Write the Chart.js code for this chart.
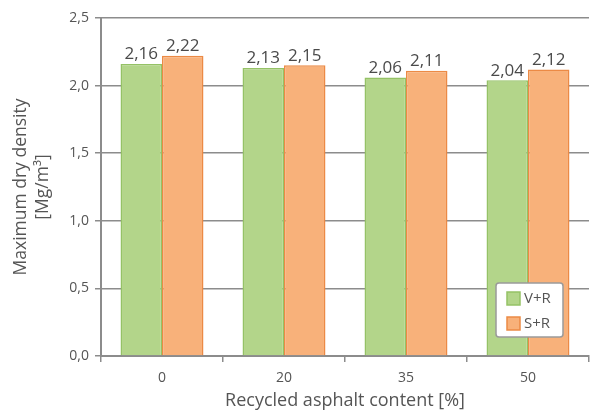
<!DOCTYPE html>
<html>
<head>
<meta charset="utf-8">
<script src="https://cdn.jsdelivr.net/npm/chart.js@4/dist/chart.umd.min.js"></script>
<style>
html,body{margin:0;padding:0;background:#fff;}
#wrap{width:590px;height:419px;position:relative;}
</style>
</head>
<body>
<div id="wrap"><canvas id="c" width="590" height="419"></canvas></div>
<script>
const categories = ['0', '20', '35', '50'];
const seriesNames = ['V+R', 'S+R'];
const valuesVR = [2.16, 2.13, 2.06, 2.04];
const valuesSR = [2.22, 2.15, 2.11, 2.12];
const yTicks = [0, 0.5, 1.0, 1.5, 2.0, 2.5];

const FONT = "'Open Sans', 'Noto Sans', sans-serif";
const TXT = '#555555';
const AX = '#8c8c8c';
const fmt = v => v.toFixed(2).replace('.', ',');
const fmt1 = v => Number(v).toFixed(1).replace('.', ',');

const colors = [
  {fill: '#b3d58a', border: '#95c266'},
  {fill: '#f8b17a', border: '#ec8a45'}
];

const labelPlugin = {
  id: 'valLabels',
  afterDatasetsDraw(chart) {
    const ctx = chart.ctx;
    ctx.save();
    ctx.font = "17px " + FONT;
    ctx.fillStyle = '#4a4a4a';
    ctx.textAlign = 'center';
    ctx.textBaseline = 'bottom';
    chart.data.datasets.forEach((ds, i) => {
      chart.getDatasetMeta(i).data.forEach((bar, j) => {
        ctx.fillText(fmt(ds.data[j]), bar.x, bar.y - 1);
      });
    });
    ctx.restore();
  }
};

const legendPlugin = {
  id: 'boxLegend',
  afterDraw(chart) {
    const ctx = chart.ctx;
    const a = chart.chartArea;
    const w = 67, h = 54;
    const x = a.right - 26 - w, y = a.bottom - 19 - h;
    ctx.save();
    ctx.fillStyle = '#ffffff';
    ctx.strokeStyle = '#9a9a9a';
    ctx.lineWidth = 1.5;
    ctx.beginPath();
    ctx.roundRect(x, y, w, h, 3);
    ctx.fill();
    ctx.stroke();
    ctx.font = "15px " + FONT;
    ctx.textBaseline = 'middle';
    ctx.textAlign = 'left';
    seriesNames.forEach((n, i) => {
      const sy = y + 9 + i * 25;
      ctx.fillStyle = colors[i].fill;
      ctx.fillRect(x + 11, sy, 13, 13);
      ctx.strokeStyle = colors[i].border;
      ctx.lineWidth = 1.5;
      ctx.strokeRect(x + 11, sy, 13, 13);
      ctx.fillStyle = TXT;
      ctx.fillText(n, x + 28, sy + 7);
    });
    ctx.restore();
  }
};

new Chart(document.getElementById('c'), {
  type: 'bar',
  data: {
    labels: categories,
    datasets: [
      {label: seriesNames[0], data: valuesVR, backgroundColor: colors[0].fill, borderColor: colors[0].border, borderWidth: 1.5, barPercentage: 1, categoryPercentage: 0.68},
      {label: seriesNames[1], data: valuesSR, backgroundColor: colors[1].fill, borderColor: colors[1].border, borderWidth: 1.5, barPercentage: 1, categoryPercentage: 0.68}
    ]
  },
  options: {
    responsive: false,
    animation: false,
    devicePixelRatio: 1,
    layout: {padding: {top: 18, right: 1, left: 0, bottom: 0}},
    plugins: {legend: {display: false}, tooltip: {enabled: false}},
    scales: {
      x: {
        offset: true,
        grid: {display: true, offset: true, drawOnChartArea: false, drawTicks: true, tickLength: 6, color: AX, lineWidth: 1.5},
        border: {display: true, color: AX, width: 2},
        ticks: {color: TXT, font: {family: FONT, size: 14}, padding: 8},
        title: {display: true, text: 'Recycled asphalt content [%]', color: TXT, font: {family: FONT, size: 18}, padding: {top: 2, bottom: 7}},
        afterFit(s) { s.height = 63; }
      },
      y: {
        min: 0, max: 2.5,
        afterBuildTicks(s) { s.ticks = yTicks.map(v => ({value: v})); },
        grid: {display: true, color: AX, lineWidth: 1.5, tickLength: 6, drawTicks: true},
        border: {display: true, color: AX, width: 2},
        ticks: {color: TXT, font: {family: FONT, size: 14}, padding: 6, callback: v => fmt1(v)},
        title: {display: true, text: ['Maximum dry density', '[Mg/m\u00B3]'], color: TXT, font: {family: FONT, size: 17.5, lineHeight: 1.25}, padding: {top: 10, bottom: 4}},
        afterFit(s) { s.width = 101; }
      }
    }
  },
  plugins: [labelPlugin, legendPlugin]
});
</script>
</body>
</html>
